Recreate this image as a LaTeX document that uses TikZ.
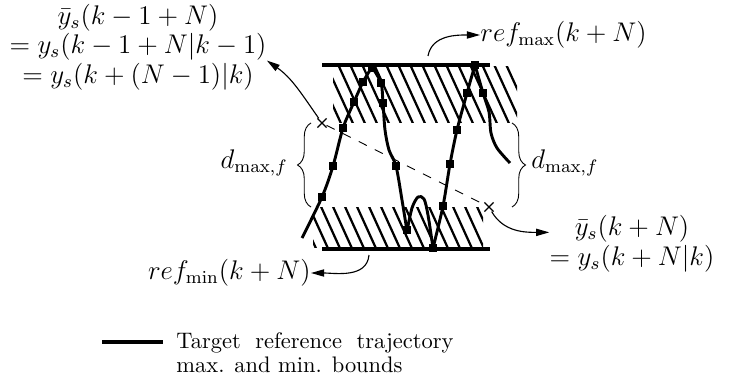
\documentclass[tikz,border=0pt]{standalone}
\usepackage{amsmath,amssymb}
\usetikzlibrary{arrows.meta,positioning,decorations.pathreplacing,shapes.misc}
\tikzset{
  bound/.style={line width=1.8pt},
  traj/.style={line width=1.3pt,line join=round},
  hatchline/.style={line width=1pt},
  sq/.style={fill=black,minimum size=3.8pt,inner sep=0pt},
  lbl/.style={font=\fontsize{12}{13.2}\selectfont,inner sep=0pt},
  xmark/.style={draw,cross out,minimum size=3.6pt,inner sep=0pt,line width=0.5pt},
  pointer/.style={-{Triangle[length=5.8pt,width=3.2pt]},line width=0.5pt},
  brc/.style={decorate,decoration={brace,amplitude=6pt},line width=0.4pt},
}

\begin{document}
\begin{tikzpicture}[x=0.445pt,y=0.445pt]
\useasboundingbox (0,0) rectangle (733,-383);
% hatched bands
\begin{scope}
\clip (333,-67) rectangle (517,-123);
\foreach \i in {0,...,20} \draw[hatchline] (300+12*\i,-60) -- ++(32,-70);
\end{scope}
\begin{scope}
\clip (313,-207) rectangle (483,-247);
\foreach \i in {0,...,17} \draw[hatchline] (282+12*\i,-200) -- ++(25,-55);
\end{scope}
\draw[bound] (322,-65) -- (490,-65);
\draw[bound] (322,-249) -- (490,-249);
% trajectory
\draw[traj] plot[smooth] coordinates {(302,-238) (322,-197) (333,-166) (343,-128) (354,-102) (363,-82) (372,-67)};
\draw[traj] plot[smooth] coordinates {(372,-67) (381,-83) (383,-103) (385,-130) (389,-150) (396,-166) (402,-200) (407,-231)};
\draw[traj] plot[smooth] coordinates {(407,-231) (412,-208) (418,-197) (424,-199) (428,-215) (433,-248)};
\draw[traj] plot[smooth] coordinates {(433,-248) (443,-206) (450,-164) (457,-130) (467,-93) (475,-65)};
\draw[traj] plot[smooth] coordinates {(475,-65) (483,-93) (489,-112) (491,-133) (497,-148) (510,-163)};
\foreach \x/\y in {322/197,333/166,343/128,354/102,363/82,372/68,381/83,383/103,396/166,407/230,
  433/248,443/206,450/164,457/130,467/93,475/65,483/93}
  \node[sq] (m\x) at (\x,-\y) {};
% predicted points
\node[xmark] (xl) at (322,-123) {};
\node[xmark] (xr) at (489,-207) {};
\draw[dash pattern=on 4pt off 4pt,line width=0.4pt] (xl) -- (xr);
% braces
\draw[brc] (311,-207) -- (311,-123);
\draw[brc] (512,-123) -- (512,-207);
% labels
\node[lbl,anchor=east] (dl) at (288,-163) {$d_{\max,f}$};
\node[lbl,anchor=west] (dr) at (531,-163) {$d_{\max,f}$};
\node[lbl,anchor=west] (rmax) at (480,-35) {$ref_{\max}(k+N)$};
\node[lbl,anchor=east] (rmin) at (311,-273) {$ref_{\min}(k+N)$};
\node[lbl,align=center] (ylab) at (138,-47) {$\bar{y}_s(k-1+N)$\\$=y_s(k-1+N|k-1)$\\$=y_s(k+(N-1)|k)$};
\node[lbl,align=center] (yr) at (632,-244) {$\bar{y}_s(k+N)$\\$=y_s(k+N|k)$};
% pointers
\coordinate (pmax) at (428,-56);
\coordinate (pmin) at (369,-255);
\draw[pointer] (pmax) to[out=80,in=180] (rmax.west);
\draw[pointer] (pmin) to[out=-95,in=0] (rmin.east);
\draw[pointer] (xl) to[out=125,in=-35] (ylab.-6);
\draw[pointer] (xr) to[out=-60,in=180] (yr.172);
% legend
\draw[bound] (102,-342) -- (163,-342);
\node[anchor=north west,inner sep=0pt,text width=123.3pt,align=justify,
  font=\fontsize{10}{10.7}\selectfont] (leg) at (176,-332)
  {Target reference trajectory\linebreak max. and min. bounds};
\end{tikzpicture}
\end{document}
